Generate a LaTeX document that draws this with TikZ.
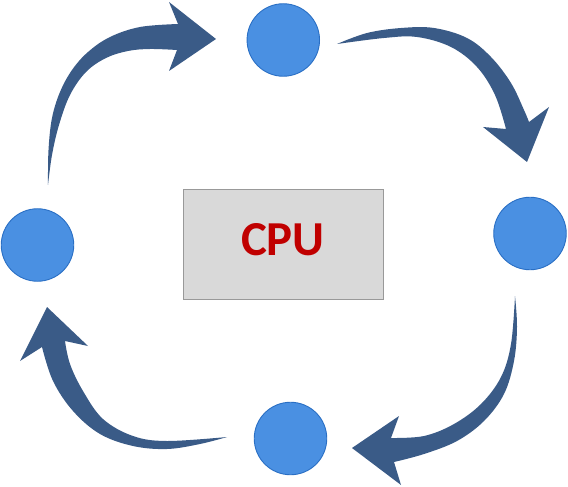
\documentclass[tikz,border=0pt]{standalone}
\usepackage{fontspec}
\setmainfont{Carlito}
\begin{document}
\begin{tikzpicture}[x=1bp,y=-1bp,
  dot/.style={circle,draw=circB,fill=circF,line width=0.9bp,minimum size=72.5bp,inner sep=0pt},
  cpubox/.style={rectangle,draw=boxB,fill=boxF,line width=1bp,minimum width=200bp,minimum height=109bp,inner sep=0pt},
  curvearrow/.style={fill=arrF}]
\definecolor{circF}{HTML}{4A90E2}
\definecolor{circB}{HTML}{2A6FC4}
\definecolor{boxF}{HTML}{D9D9D9}
\definecolor{boxB}{HTML}{999999}
\definecolor{arrF}{HTML}{3A5B87}
\definecolor{cpuR}{HTML}{C00000}
\useasboundingbox (0,0) rectangle (568,487);
\node[dot] (ntop) at (283.3,40) {};
\node[dot] (nright) at (530,233.5) {};
\node[dot] (nbottom) at (290.5,438.5) {};
\node[dot] (nleft) at (37.5,245) {};
\node[cpubox] (cpu) at (283,244.5) {};
\node[text=cpuR,font=\fontsize{49}{50}\selectfont\bfseries] (cpulabel) at (283,240) {CPU};
% arrow 1: left -> top
\fill[curvearrow] (48,185) -- plot[smooth,tension=0.6] coordinates {(48,185) (48.5,150) (52,118) (60,92) (72,70) (88,52) (110,37) (140,27) (178,24)}
  -- (169,2) -- (216,39) -- (169,71) -- (177,50)
  -- plot[smooth,tension=0.6] coordinates {(177,50) (150,49) (128,51) (106,58) (86,72) (70,95) (59,125) (52,155) (48,185)} -- cycle;
% arrow 2: top -> right
\fill[curvearrow] (337,44) -- plot[smooth,tension=0.6] coordinates {(337,44) (367,33) (401,28) (434,28) (467,38) (491,57) (511,83) (524,110) (529,122)}
  -- (549,107) -- (527,162) -- (483,127) -- (506,129)
  -- plot[smooth,tension=0.6] coordinates {(506,129) (495,95) (477,67) (451,47) (417,37) (384,38) (337,44)} -- cycle;
% arrow 3: right -> bottom
\fill[curvearrow] (515,296) -- plot[smooth,tension=0.6] coordinates {(515,296) (517,327) (514,361) (504,394) (484,421) (457,441) (424,454) (394,462)}
  -- (401,485) -- (352,448) -- (399,416) -- (391,438)
  -- plot[smooth,tension=0.6] coordinates {(391,438) (424,436) (454,424) (481,404) (501,377) (511,344) (515,296)} -- cycle;
% arrow 4: bottom -> left
\fill[curvearrow] (227,437) -- plot[smooth,tension=0.6] coordinates {(227,437) (200,444) (167,449) (133,446) (100,434) (73,411) (53,381) (42,347)}
  -- (20,361) -- (47,307) -- (88,346) -- (65,341)
  -- plot[smooth,tension=0.6] coordinates {(65,341) (70,364) (83,391) (103,419) (133,436) (167,441) (227,437)} -- cycle;
\end{tikzpicture}
\end{document}
